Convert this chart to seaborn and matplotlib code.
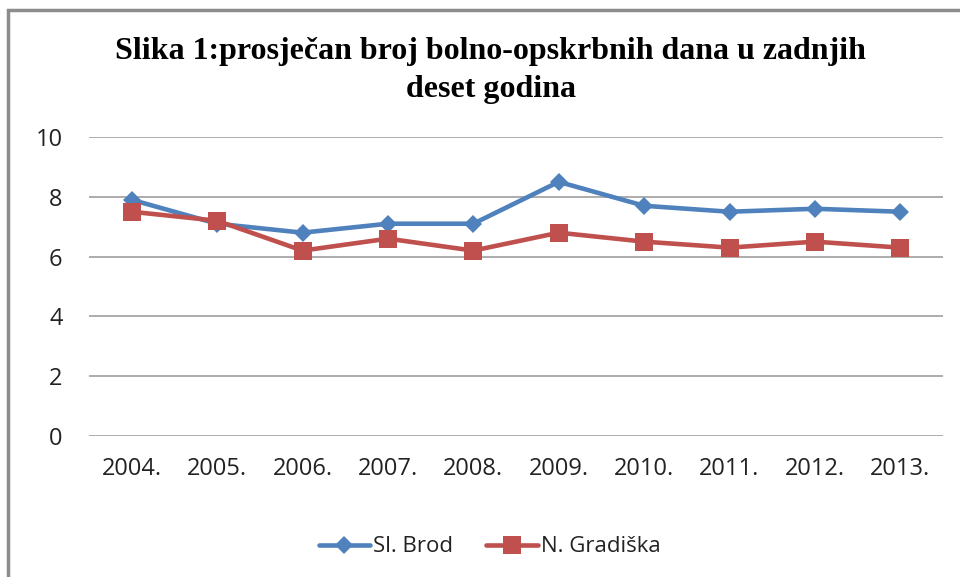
import matplotlib
matplotlib.use("Agg")
import matplotlib.pyplot as plt
import seaborn as sns
import pandas as pd
from matplotlib.patches import Rectangle

# Podaci
godine = ["2004.", "2005.", "2006.", "2007.", "2008.", "2009.", "2010.", "2011.", "2012.", "2013."]
sl_brod = [7.9, 7.1, 6.8, 7.1, 7.1, 8.5, 7.7, 7.5, 7.6, 7.5]
n_gradiska = [7.5, 7.2, 6.2, 6.6, 6.2, 6.8, 6.5, 6.3, 6.5, 6.3]
serije = ["Sl. Brod", "N. Gradiška"]
boje = {"Sl. Brod": "#4F81BD", "N. Gradiška": "#C0504D"}
markeri = {"Sl. Brod": "D", "N. Gradiška": "s"}

df = pd.DataFrame({
    "godina": godine * 2,
    "vrijednost": sl_brod + n_gradiska,
    "serija": [serije[0]] * len(godine) + [serije[1]] * len(godine),
})

sns.set_style("white")
plt.rcParams['font.family'] = ['Open Sans', 'DejaVu Sans']

fig = plt.figure(figsize=(9.6, 5.77), dpi=100)
ax = fig.add_axes([89 / 960, 1 - 436 / 577, (943 - 89) / 960, (436 - 137) / 577])

sns.lineplot(data=df, x="godina", y="vrijednost", hue="serija", style="serija",
             palette=boje, markers=markeri, dashes=False, linewidth=3.3,
             markeredgewidth=0, ax=ax, sort=False)

# velicina markera po seriji
for line in ax.get_lines():
    if line.get_marker() == "s":
        line.set_markersize(13)
    elif line.get_marker() == "D":
        line.set_markersize(9.5)

ax.set_xlim(-0.5, len(godine) - 0.5)
ax.set_ylim(0, 10)
ax.set_yticks([0, 2, 4, 6, 8, 10])
ax.yaxis.grid(True, color="#a6a6a6", linewidth=1.3)
ax.set_axisbelow(True)
for s in ax.spines.values():
    s.set_visible(False)
ax.tick_params(axis="both", length=0, labelsize=17, colors="#222222")
ax.tick_params(axis="y", pad=19)
ax.tick_params(axis="x", pad=15)
ax.set_xlabel("")
ax.set_ylabel("")

handles, labels = ax.get_legend_handles_labels()
ax.legend_.remove()
for h in handles:
    if h.get_marker() == "s":
        h.set_markersize(13)
    elif h.get_marker() == "D":
        h.set_markersize(9.5)
fig.legend(handles, labels, loc="center", bbox_to_anchor=(0.51, 0.052), ncol=2,
           frameon=False, fontsize=16, handlelength=2.3, columnspacing=1.5,
           handletextpad=0.15, labelcolor="#222222")

fig.text(0.511, 1 - 51 / 577, "Slika 1:prosječan broj bolno-opskrbnih dana u zadnjih",
         ha="center", va="center", fontsize=23, fontweight="bold",
         family="Liberation Serif", color="black")
fig.text(0.511, 1 - 89 / 577, "deset godina",
         ha="center", va="center", fontsize=23, fontweight="bold",
         family="Liberation Serif", color="black")

# okvir grafikona
fig.patches.append(Rectangle((8 / 960, -0.1), 1.2, 1 - 10 / 577 + 0.1,
                             transform=fig.transFigure, fill=False,
                             edgecolor="#8c8c8c", linewidth=2.5))

fig.savefig("out.png", dpi=100)
